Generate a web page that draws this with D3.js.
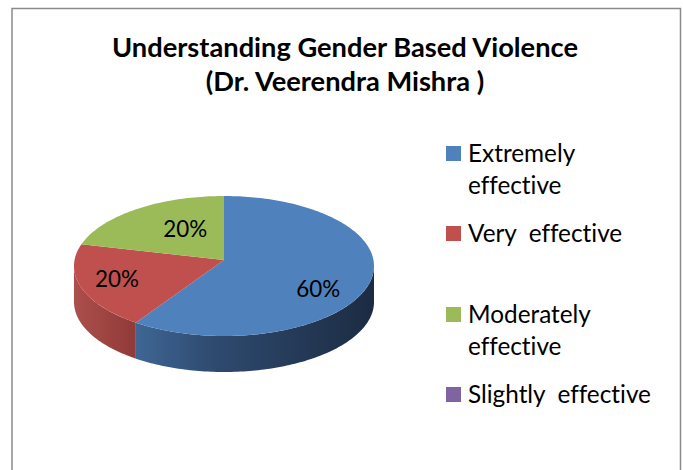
<!DOCTYPE html>
<html>
<head>
<meta charset="utf-8">
<script src="https://d3js.org/d3.v7.min.js"></script>
<style>
  body { margin: 0; background: #fff; }
  text { font-family: Lato, "Open Sans", sans-serif; fill: #000; font-variant-ligatures: none; }
</style>
</head>
<body>
<script>
// chart data
var categories = ["Extremely effective", "Very  effective", "Moderately effective", "Slightly  effective"];
var legendLines = [["Extremely", "effective"], ["Very  effective"], ["Moderately", "effective"], ["Slightly  effective"]];
var values = [60, 20, 20, 0];
var titleLines = ["Understanding Gender Based Violence", "(Dr. Veerendra Mishra )"];

var colors = ["#4F81BD", "#C0504D", "#9BBB59", "#8064A2"];

var W = 683, H = 470;
var svg = d3.select("body").append("svg").attr("width", W).attr("height", H);

// chart frame
svg.append("rect").attr("x", 12).attr("y", 8.5).attr("width", 668.5).attr("height", 520)
  .attr("fill", "#fff").attr("stroke", "#8a8a8a").attr("stroke-width", 1.5);

// fit a text element's font size to a target width
function fit(sel, target) {
  var w = sel.node().getComputedTextLength();
  var fs = parseFloat(sel.style("font-size"));
  sel.style("font-size", (fs * target / w) + "px");
}

// title
var t1 = svg.append("text").attr("x", 345).attr("y", 57).attr("text-anchor", "middle")
  .style("font-weight", "bold").style("font-size", "24px").text(titleLines[0]);
fit(t1, 466);
svg.append("text").attr("x", 345).attr("y", 91).attr("text-anchor", "middle")
  .style("font-weight", "bold").style("font-size", t1.style("font-size")).text(titleLines[1]);

// 3D pie geometry
var cx = 224, cy = 266, rx = 150, ry = 70, depth = 36;
var apex = [224, 260];
var pie = d3.pie().sort(null).value(function(d) { return d; });
var arcs = pie(values);

function pt(a, dy) { return [cx + rx * Math.sin(a), cy - ry * Math.cos(a) + (dy || 0)]; }
function ellArc(a0, a1, dy) {
  var n = Math.max(2, Math.ceil(Math.abs(a1 - a0) / 0.02));
  var s = d3.scaleLinear().domain([0, n]).range([a0, a1]);
  return d3.range(n + 1).map(function(i) { return pt(s(i), dy); });
}
var line = d3.line();

var defs = svg.append("defs");
var gBlue = defs.append("linearGradient").attr("id", "sideBlue").attr("gradientUnits", "userSpaceOnUse")
  .attr("x1", cx - rx).attr("x2", cx + rx).attr("y1", 0).attr("y2", 0);
gBlue.append("stop").attr("offset", 0.18).attr("stop-color", "#406998");
gBlue.append("stop").attr("offset", 0.47).attr("stop-color", "#2E4A6F");
gBlue.append("stop").attr("offset", 1).attr("stop-color", "#1C2B42");
var gRed = defs.append("linearGradient").attr("id", "sideRed").attr("gradientUnits", "userSpaceOnUse")
  .attr("x1", cx - rx).attr("x2", 130).attr("y1", 0).attr("y2", 0);
gRed.append("stop").attr("offset", 0).attr("stop-color", "#AD4F4C");
gRed.append("stop").attr("offset", 1).attr("stop-color", "#923C39");
var sideFill = ["url(#sideBlue)", "url(#sideRed)", "#7E9A46", "#684F88"];

// side walls (front half only: angles pi/2 .. 3pi/2)
var pieG = svg.append("g");
arcs.forEach(function(d, i) {
  var a0 = Math.max(d.startAngle, Math.PI / 2), a1 = Math.min(d.endAngle, 3 * Math.PI / 2);
  if (a1 <= a0) return;
  var top = ellArc(a0, a1, 0), bot = ellArc(a1, a0, depth);
  pieG.append("path").attr("d", line(top.concat(bot)) + "Z").attr("fill", sideFill[i]);
});

// top face
arcs.forEach(function(d, i) {
  if (d.endAngle - d.startAngle <= 0) return;
  var pts = [apex].concat(ellArc(d.startAngle, d.endAngle, 0));
  pieG.append("path").attr("d", line(pts) + "Z").attr("fill", colors[i]);
});

// data labels
var labelFrac = [0.66, 0.75, 0.44];
var labelDy = [9, -3, -12];
var fmt = d3.format(".0%");
var total = d3.sum(values);
arcs.forEach(function(d, i) {
  if (d.value <= 0) return;
  var m = (d.startAngle + d.endAngle) / 2;
  var x = cx + rx * labelFrac[i] * Math.sin(m);
  var y = cy - ry * labelFrac[i] * Math.cos(m) + labelDy[i];
  var t = pieG.append("text").attr("x", x).attr("y", y + 7.5).attr("text-anchor", "middle")
    .style("font-size", "21px").text(fmt(d.value / total));
  fit(t, 44);
});

// legend
var legendTop = [146, 226, 307, 387];
var lg = svg.append("g");
var probe = lg.append("text").style("font-size", "20px").style("white-space", "pre").text(legendLines[3][0]);
fit(probe, 183);
var lfs = probe.style("font-size");
probe.remove();
categories.forEach(function(c, i) {
  lg.append("rect").attr("x", 446).attr("y", legendTop[i]).attr("width", 15).attr("height", 15)
    .attr("fill", colors[i]);
  legendLines[i].forEach(function(s, j) {
    lg.append("text").attr("x", 468).attr("y", legendTop[i] + 15.5 + j * 32.5)
      .style("font-size", lfs).style("white-space", "pre").text(s);
  });
});
</script>
</body>
</html>
